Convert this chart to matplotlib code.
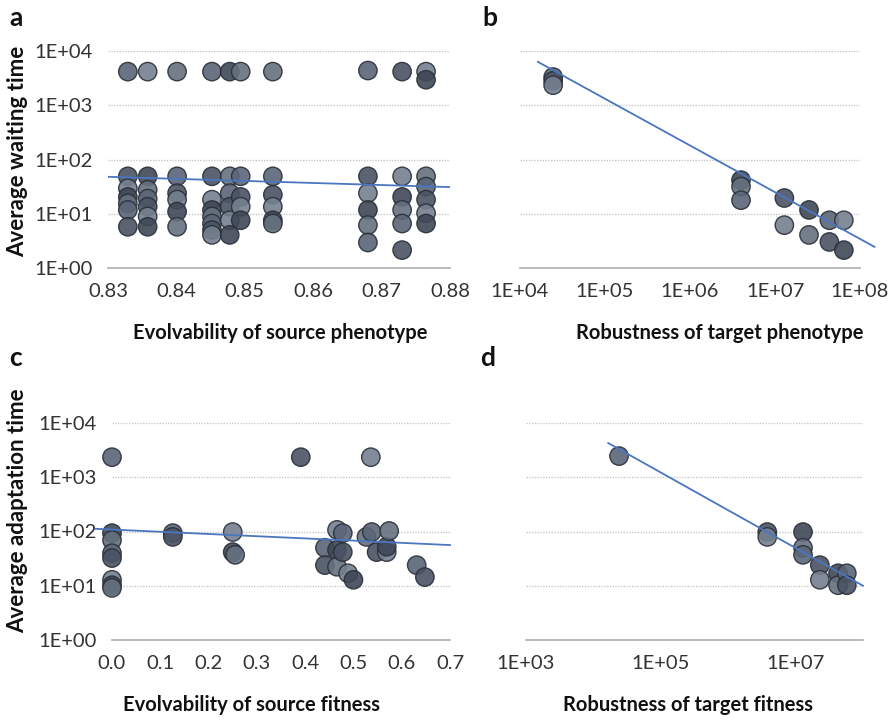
import matplotlib.pyplot as plt
import numpy as np
from matplotlib.ticker import FixedLocator, NullLocator

# ---- a: evolvability of source phenotype vs waiting time
a_x = [0.8329, 0.8358, 0.8401, 0.8452, 0.8478, 0.8494, 0.8541, 0.8680, 0.8730, 0.8765]
a_logy = [
    [3.62, 1.69, 1.47, 1.31, 1.19, 1.07, 0.76],
    [3.62, 1.69, 1.44, 1.28, 1.13, 0.95, 0.76],
    [3.62, 1.69, 1.38, 1.26, 1.04, 0.76],
    [3.62, 1.69, 1.26, 1.07, 0.95, 0.82, 0.70, 0.61],
    [3.62, 1.69, 1.38, 1.13, 0.88, 0.61],
    [3.62, 1.69, 1.31, 1.13, 0.88],
    [3.62, 1.69, 1.35, 1.13, 0.88, 0.82],
    [3.64, 1.69, 1.38, 1.07, 0.79, 0.47],
    [3.62, 1.69, 1.31, 1.07, 0.82, 0.33],
    [3.62, 3.47, 1.69, 1.50, 1.26, 1.01, 0.82],
]
a_fit_x = [0.83, 0.88]
a_fit_y = [48, 31]

# ---- b: robustness of target phenotype vs waiting time
b_logx = [4.39, 4.39, 4.39, 6.60, 6.60, 6.60, 7.11, 7.11, 7.40, 7.40, 7.64, 7.64, 7.81, 7.81]
b_logy = [3.52, 3.45, 3.37, 1.62, 1.50, 1.25, 1.29, 0.79, 1.07, 0.61, 0.88, 0.48, 0.88, 0.33]
b_fit_logx = [4.21, 8.17]
b_fit_logy = [3.80, 0.39]

# ---- c: evolvability of source fitness vs adaptation time
c_x = [0.0, 0.391, 0.536,
       0.0, 0.0, 0.0, 0.0, 0.0, 0.0, 0.0,
       0.126, 0.126, 0.25, 0.25, 0.255,
       0.441, 0.441, 0.466, 0.466, 0.466, 0.478, 0.478, 0.489, 0.50,
       0.527, 0.538, 0.548, 0.569, 0.569, 0.574, 0.631, 0.648]
c_logy = [3.37, 3.37, 3.37,
          1.97, 1.84, 1.60, 1.51, 1.11, 1.01, 0.96,
          1.97, 1.90, 1.99, 1.62, 1.57,
          1.70, 1.38, 2.03, 1.66, 1.35, 1.97, 1.62, 1.23, 1.11,
          1.90, 1.99, 1.62, 1.62, 1.72, 2.01, 1.38, 1.16]
c_fit_x = [-0.035, 0.70]
c_fit_logy = [2.05, 1.75]

# ---- d: robustness of target fitness vs adaptation time
d_logx = [4.38, 6.58, 6.58, 7.11, 7.11, 7.11, 7.36, 7.36, 7.63, 7.63, 7.76, 7.76]
d_logy = [3.39, 1.99, 1.90, 1.99, 1.70, 1.57, 1.38, 1.11, 1.23, 1.01, 1.23, 1.01]
d_fit_logx = [4.22, 8.0]
d_fit_logy = [3.63, 1.0]

y_ticks = [1, 10, 100, 1000, 10000]
y_labels = ['1E+00', '1E+01', '1E+02', '1E+03', '1E+04']

shades = ['#5a6577', '#4a5364', '#75808f', '#3f4756', '#66717f']
line_col = '#4a76c0'
tick_font = dict(family=['Lato', 'DejaVu Sans'], size=14.5, color='#333333', weight='normal')
lab_font = dict(family=['Lato', 'DejaVu Sans'], size=14.5, weight='bold', color='#111111')

W, H = 892, 721
fig = plt.figure(figsize=(W / 100, H / 100), dpi=100)


def px_axes(l, t, r, b):
    return fig.add_axes([l / W, 1 - b / H, (r - l) / W, (b - t) / H])


def dots(ax, x, y):
    cols = [shades[i % len(shades)] for i in range(len(x))]
    ax.scatter(x, y, s=175, c=cols, edgecolors='#2a3039', linewidths=1.0,
               alpha=0.9, clip_on=False, zorder=3)


def style(ax, show_ylabels):
    ax.set_yscale('log')
    ax.set_ylim(1, 1e4)
    ax.yaxis.set_major_locator(FixedLocator(y_ticks))
    ax.yaxis.set_minor_locator(NullLocator())
    ax.set_yticklabels(y_labels if show_ylabels else [])
    for s in ['top', 'right', 'left']:
        ax.spines[s].set_visible(False)
    ax.spines['bottom'].set_color('#b5b5b5')
    ax.spines['bottom'].set_linewidth(1.3)
    for yv in y_ticks[1:]:
        ax.axhline(yv, color='#c8c8c8', lw=1.0, ls=(0, (1, 1)), zorder=1)
    ax.tick_params(length=0, pad=11)
    for t in ax.get_xticklabels() + ax.get_yticklabels():
        t.set(**tick_font)


# a
ax = px_axes(108, 51, 450, 268)
style(ax, True)
ax.set_xlim(0.83, 0.88)
ax.xaxis.set_major_locator(FixedLocator([0.83, 0.84, 0.85, 0.86, 0.87, 0.88]))
ax.set_xticklabels(['0.83', '0.84', '0.85', '0.86', '0.87', '0.88'])
for t in ax.get_xticklabels() + ax.get_yticklabels():
    t.set(**tick_font)
ax_x = [xv for xv, col in zip(a_x, a_logy) for _ in col]
ax_y = [10 ** v for col in a_logy for v in col]
dots(ax, ax_x, ax_y)
ax.plot(a_fit_x, a_fit_y, color=line_col, lw=1.3, zorder=4)

# b
ax = px_axes(520, 51, 860, 268)
style(ax, False)
ax.set_xscale('log')
ax.set_xlim(1e4, 1e8)
ax.xaxis.set_major_locator(FixedLocator([1e4, 1e5, 1e6, 1e7, 1e8]))
ax.xaxis.set_minor_locator(NullLocator())
ax.set_xticklabels(['1E+04', '1E+05', '1E+06', '1E+07', '1E+08'])
for t in ax.get_xticklabels():
    t.set(**tick_font)
dots(ax, 10 ** np.array(b_logx), 10 ** np.array(b_logy))
ax.plot(10 ** np.array(b_fit_logx), 10 ** np.array(b_fit_logy), color=line_col, lw=1.3,
        zorder=4, clip_on=False)

# c
ax = px_axes(112, 423, 450, 640)
style(ax, True)
ax.set_xlim(0, 0.7)
ax.xaxis.set_major_locator(FixedLocator([0, 0.1, 0.2, 0.3, 0.4, 0.5, 0.6, 0.7]))
ax.set_xticklabels(['0.0', '0.1', '0.2', '0.3', '0.4', '0.5', '0.6', '0.7'])
for t in ax.get_xticklabels() + ax.get_yticklabels():
    t.set(**tick_font)
dots(ax, c_x, 10 ** np.array(c_logy))
ax.plot(c_fit_x, 10 ** np.array(c_fit_logy), color=line_col, lw=1.3, zorder=4, clip_on=False)

# d
ax = px_axes(526, 423, 863, 640)
style(ax, False)
ax.set_xscale('log')
ax.set_xlim(1e3, 1e8)
ax.xaxis.set_major_locator(FixedLocator([1e3, 1e5, 1e7]))
ax.xaxis.set_minor_locator(NullLocator())
ax.set_xticklabels(['1E+03', '1E+05', '1E+07'])
for t in ax.get_xticklabels():
    t.set(**tick_font)
dots(ax, 10 ** np.array(d_logx), 10 ** np.array(d_logy))
ax.plot(10 ** np.array(d_fit_logx), 10 ** np.array(d_fit_logy), color=line_col, lw=1.3,
        zorder=4, clip_on=False)

# axis titles and panel letters
fig.text(280 / W, 1 - 333 / H, 'Evolvability of source phenotype', ha='center', va='center', **lab_font)
fig.text(720 / W, 1 - 333 / H, 'Robustness of target phenotype', ha='center', va='center', **lab_font)
fig.text(252 / W, 1 - 705 / H, 'Evolvability of source fitness', ha='center', va='center', **lab_font)
fig.text(688 / W, 1 - 705 / H, 'Robustness of target fitness', ha='center', va='center', **lab_font)
ylab_font = dict(lab_font, size=16)
fig.text(18 / W, 1 - 151 / H, 'Average waiting time', rotation=90, ha='center', va='center', **ylab_font)
fig.text(18 / W, 1 - 511 / H, 'Average adaptation time', rotation=90, ha='center', va='center', **ylab_font)

letter = dict(family=['Lato', 'DejaVu Sans'], size=19, weight='bold', color='#111111')
fig.text(16 / W, 1 - 18 / H, 'a', ha='center', va='center', **letter)
fig.text(490 / W, 1 - 18 / H, 'b', ha='center', va='center', **letter)
fig.text(16 / W, 1 - 358 / H, 'c', ha='center', va='center', **letter)
fig.text(488 / W, 1 - 358 / H, 'd', ha='center', va='center', **letter)

fig.savefig('out.png', dpi=100, facecolor='white')
